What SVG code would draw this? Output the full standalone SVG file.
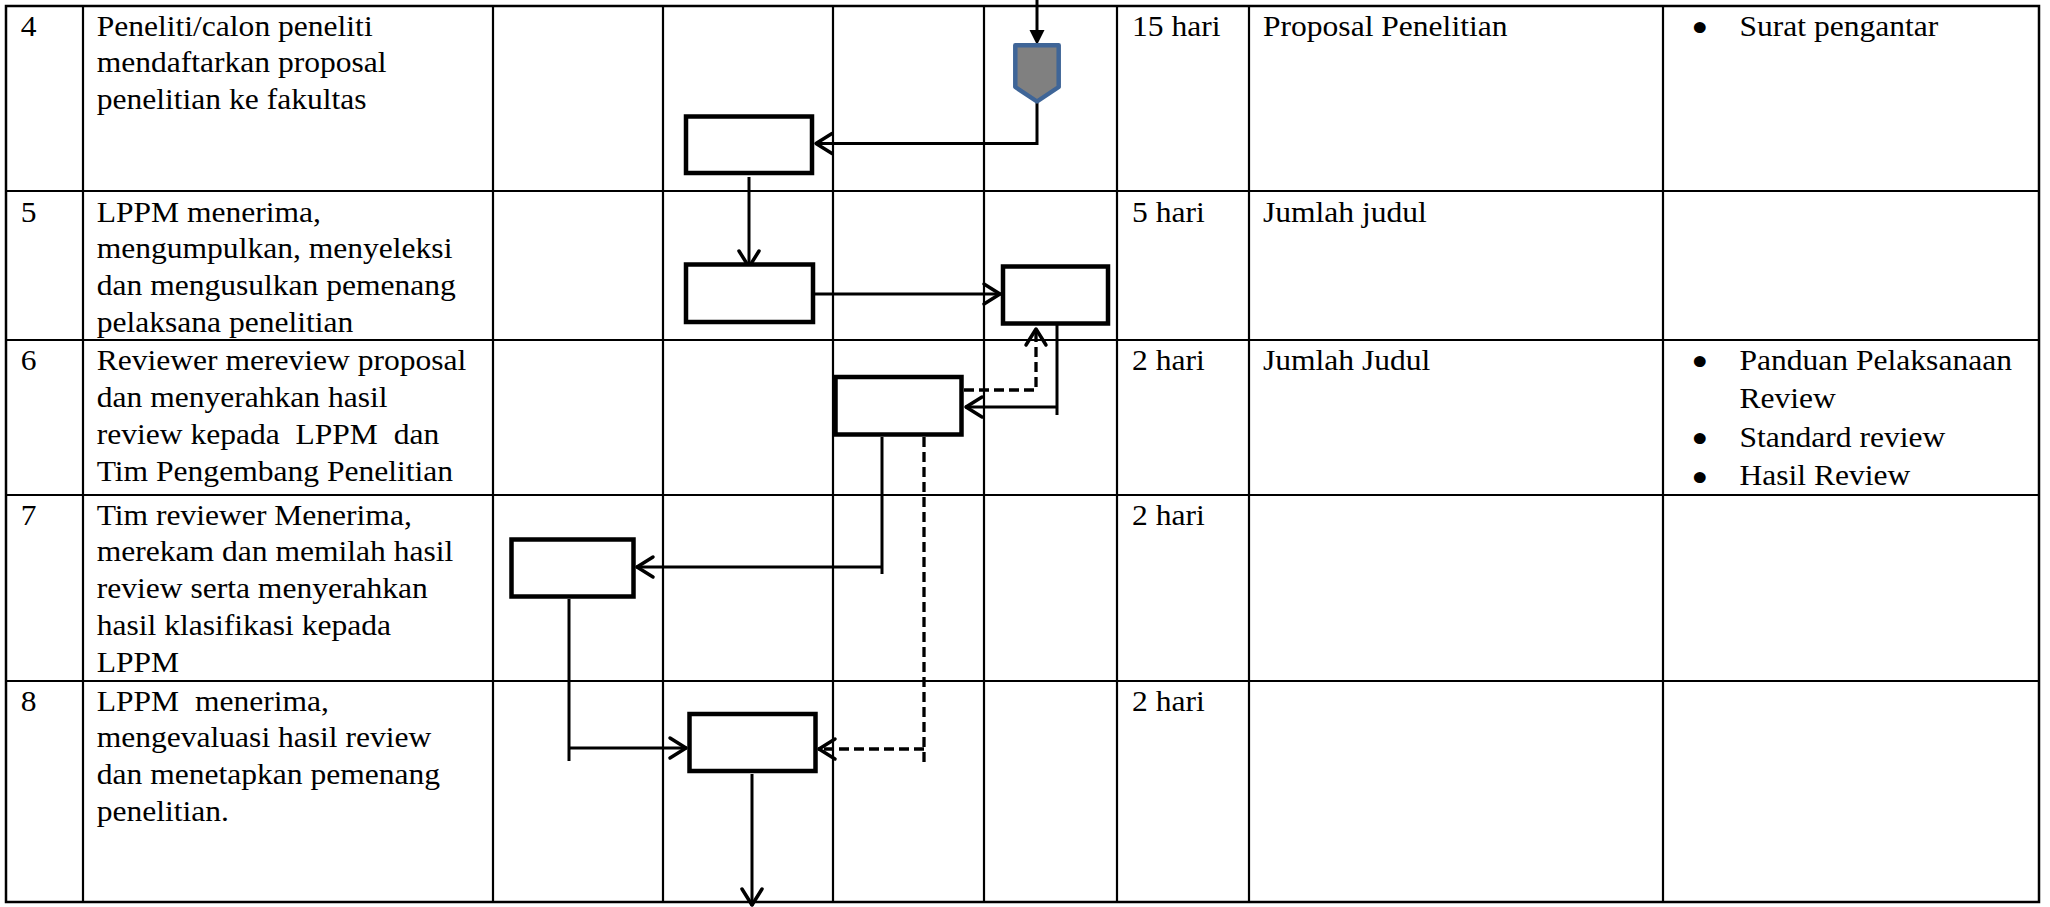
<svg xmlns="http://www.w3.org/2000/svg" width="2050" height="907" viewBox="0 0 2050 907">
<style>
.grid line{stroke:#000;stroke-width:2.2}
.grid rect{fill:none;stroke:#000;stroke-width:2.5}
.box{fill:#fff;stroke:#000;stroke-width:4.5}
.t{font-family:"Liberation Serif","Times New Roman",serif;font-size:29.5px;fill:#000}
.bl{stroke:#000;stroke-width:4;stroke-linejoin:round}
.c{fill:none;stroke:#000;stroke-width:3}
.d{fill:none;stroke:#000;stroke-width:3.3;stroke-dasharray:10 5}
</style>
<defs>
<marker id="chev" markerUnits="userSpaceOnUse" orient="auto" refX="0" refY="0" markerWidth="40" markerHeight="40" overflow="visible">
<path d="M-17,-10 L-1,0 L-17,10" fill="none" stroke="#000" stroke-width="3.5" stroke-linejoin="round" stroke-linecap="round"/>
</marker>
<marker id="tri" markerUnits="userSpaceOnUse" orient="auto" refX="0" refY="0" markerWidth="40" markerHeight="40" overflow="visible">
<path d="M-2,-7.5 L13,0 L-2,7.5 Z" fill="#000"/>
</marker>
</defs>
<rect width="2050" height="907" fill="#fff"/>
<g id="table" class="grid">
<rect x="6" y="6" width="2033" height="896"/>
<line x1="83" y1="6" x2="83" y2="902"/>
<line x1="493" y1="6" x2="493" y2="902"/>
<line x1="663" y1="6" x2="663" y2="902"/>
<line x1="833" y1="6" x2="833" y2="902"/>
<line x1="984" y1="6" x2="984" y2="902"/>
<line x1="1117" y1="6" x2="1117" y2="902"/>
<line x1="1249" y1="6" x2="1249" y2="902"/>
<line x1="1663" y1="6" x2="1663" y2="902"/>
<line x1="6" y1="191" x2="2039" y2="191"/>
<line x1="6" y1="340" x2="2039" y2="340"/>
<line x1="6" y1="495" x2="2039" y2="495"/>
<line x1="6" y1="681" x2="2039" y2="681"/>
</g>
<g id="texts">
<text class="t" transform="translate(20.7 35.5) scale(1.07 1)">4</text>
<text class="t" transform="translate(96.7 35.5) scale(1.07 1)"><tspan x="0" y="0">Peneliti/calon peneliti</tspan><tspan x="0" y="37">mendaftarkan proposal</tspan><tspan x="0" y="74">penelitian ke fakultas</tspan></text>
<text class="t" transform="translate(1132 35.5) scale(1.07 1)">15 hari</text>
<text class="t" transform="translate(1263 35.5) scale(1.07 1)">Proposal Penelitian</text>
<text class="t" transform="translate(1739.5 35.5) scale(1.07 1)"><tspan class="bl" x="-42.4" y="2.7">•</tspan><tspan x="0" y="0">Surat pengantar</tspan></text>

<text class="t" transform="translate(20.7 221.5) scale(1.07 1)">5</text>
<text class="t" transform="translate(96.7 221.5) scale(1.07 1)"><tspan x="0" y="0">LPPM menerima,</tspan><tspan x="0" y="37">mengumpulkan, menyeleksi</tspan><tspan x="0" y="74">dan mengusulkan pemenang</tspan><tspan x="0" y="111">pelaksana penelitian</tspan></text>
<text class="t" transform="translate(1132 221.5) scale(1.07 1)">5 hari</text>
<text class="t" transform="translate(1263 221.5) scale(1.07 1)">Jumlah judul</text>

<text class="t" transform="translate(20.7 370) scale(1.07 1)">6</text>
<text class="t" xml:space="preserve" transform="translate(96.7 370) scale(1.07 1)"><tspan x="0" y="0">Reviewer mereview proposal</tspan><tspan x="0" y="37">dan menyerahkan hasil</tspan><tspan x="0" y="74">review kepada  LPPM  dan</tspan><tspan x="0" y="111">Tim Pengembang Penelitian</tspan></text>
<text class="t" transform="translate(1132 370) scale(1.07 1)">2 hari</text>
<text class="t" transform="translate(1263 370) scale(1.07 1)">Jumlah Judul</text>
<text class="t" transform="translate(1739.5 369.5) scale(1.07 1)"><tspan class="bl" x="-42.4" y="2.7">•</tspan><tspan x="0" y="0">Panduan Pelaksanaan</tspan><tspan x="0" y="39">Review</tspan><tspan class="bl" x="-42.4" y="79.9">•</tspan><tspan x="0" y="78">Standard review</tspan><tspan class="bl" x="-42.4" y="118.4">•</tspan><tspan x="0" y="116">Hasil Review</tspan></text>

<text class="t" transform="translate(20.7 524.5) scale(1.07 1)">7</text>
<text class="t" transform="translate(96.7 524.5) scale(1.07 1)"><tspan x="0" y="0">Tim reviewer Menerima,</tspan><tspan x="0" y="37">merekam dan memilah hasil</tspan><tspan x="0" y="74">review serta menyerahkan</tspan><tspan x="0" y="111">hasil klasifikasi kepada</tspan><tspan x="0" y="148">LPPM</tspan></text>
<text class="t" transform="translate(1132 524.5) scale(1.07 1)">2 hari</text>

<text class="t" transform="translate(20.7 710.5) scale(1.07 1)">8</text>
<text class="t" xml:space="preserve" transform="translate(96.7 710.5) scale(1.07 1)"><tspan x="0" y="0">LPPM  menerima,</tspan><tspan x="0" y="37">mengevaluasi hasil review</tspan><tspan x="0" y="74">dan menetapkan pemenang</tspan><tspan x="0" y="111">penelitian.</tspan></text>
<text class="t" transform="translate(1132 710.5) scale(1.07 1)">2 hari</text>
</g>
<g id="connectors">
<path class="c" d="M1037,0 V32" marker-end="url(#tri)"/>
<path class="c" d="M1037,102 V143.5 H815" marker-end="url(#chev)"/>
<path class="c" d="M749,177 V268" marker-end="url(#chev)"/>
<path class="c" d="M815,294 H1001" marker-end="url(#chev)"/>
<path class="d" d="M964,390 H1036 V328" marker-end="url(#chev)"/>
<path class="c" d="M1057,325 V415"/>
<path class="c" d="M1057,407 H965" marker-end="url(#chev)"/>
<path class="c" d="M882,437 V574"/>
<path class="c" d="M882,567 H636" marker-end="url(#chev)"/>
<path class="d" d="M924,437 V766"/>
<path class="d" d="M924,749 H818" marker-end="url(#chev)"/>
<path class="c" d="M569,599 V761"/>
<path class="c" d="M569,748 H687" marker-end="url(#chev)"/>
<path class="c" d="M752,774 V906" marker-end="url(#chev)"/>
</g>
<g id="offpage">
<path d="M1015.3,45.3 H1058.7 V87 L1037,101.5 L1015.3,87 Z" fill="#808080" stroke="#3F6597" stroke-width="4.5" stroke-linejoin="round"/>
</g>
<g id="box1"><rect class="box" x="686" y="116.5" width="126" height="56.5"/></g>
<g id="box2"><rect class="box" x="686" y="264.5" width="127" height="57.5"/></g>
<g id="box3"><rect class="box" x="1003" y="266.5" width="105" height="57"/></g>
<g id="box4"><rect class="box" x="835.5" y="377" width="126" height="57.5"/></g>
<g id="box5"><rect class="box" x="511.5" y="539.5" width="122" height="57"/></g>
<g id="box6"><rect class="box" x="689.5" y="714" width="126" height="57"/></g>
</svg>
